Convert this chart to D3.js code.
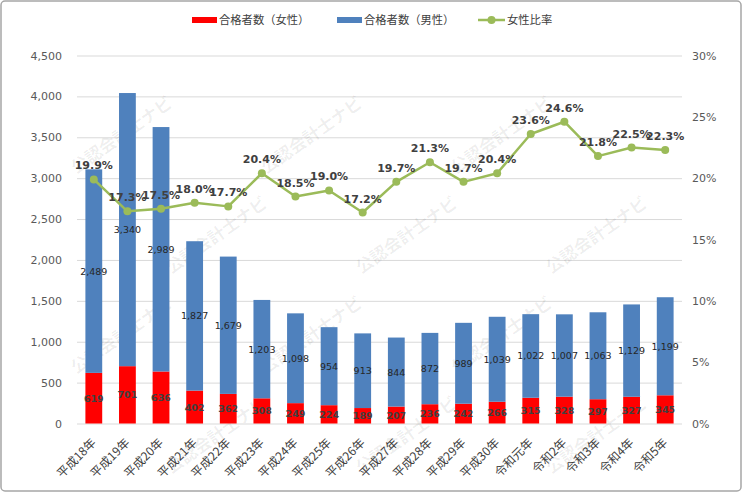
<!DOCTYPE html>
<html lang="ja">
<head>
<meta charset="UTF-8">
<title>公認会計士試験 合格者数</title>
<script src="https://d3js.org/d3.v7.min.js"></script>
<style>
  body { margin: 0; background: #fff; }
  .jp { font-family: "Noto Sans CJK JP", "Noto Sans", sans-serif; }
  .num { font-family: "DejaVu Sans", Verdana, sans-serif; }
</style>
</head>
<body>
<div class="canvas"></div>
<script>
// data
const years = ['平成18年','平成19年','平成20年','平成21年','平成22年','平成23年','平成24年','平成25年','平成26年',
  '平成27年','平成28年','平成29年','平成30年','令和元年','令和2年','令和3年','令和4年','令和5年']
const female = [619, 701, 636, 402, 362, 308, 249, 224, 189, 207, 236, 242, 266, 315, 328, 297, 327, 345]
const male = [2489, 3340, 2989, 1827, 1679, 1203, 1098, 954, 913, 844, 872, 989, 1039, 1022, 1007, 1063, 1129, 1199]
const ratio = [19.9, 17.3, 17.5, 18.0, 17.7, 20.4, 18.5, 19.0, 17.2, 19.7, 21.3, 19.7, 20.4, 23.6, 24.6, 21.8, 22.5, 22.3]
const leftTicks = [0, 500, 1000, 1500, 2000, 2500, 3000, 3500, 4000, 4500]
const rightTicks = [0, 0.05, 0.10, 0.15, 0.20, 0.25, 0.30]
const legendNames = ['合格者数（女性）', '合格者数（男性）', '女性比率']

const width = 743
const height = 493
const [ml, mr, mt, mb] = [77, 61, 55.5, 69.5]
const red = '#ff0000'
const blue = '#4f81bd'
const green = '#9bbb59'

const svg = d3.select('.canvas')
  .append('svg')
  .attr('width', width)
  .attr('height', height)

// frame
svg.append('rect')
  .attr('x', 1).attr('y', 1)
  .attr('width', width - 3).attr('height', height - 3)
  .attr('rx', 4)
  .attr('fill', '#fff')
  .attr('stroke', '#a6a6a6')
  .attr('stroke-width', 1.5)

const x = d3.scaleBand()
  .domain(years)
  .range([ml, width - mr])
  .paddingInner(0.5)
  .paddingOuter(0.25)

const y = d3.scaleLinear()
  .domain([0, 4500])
  .range([height - mb, mt])

const y2 = d3.scaleLinear()
  .domain([0, 0.30])
  .range([height - mb, mt])

// grid
const grid = svg.append('g')
  .attr('transform', `translate(${ml},0)`)
  .call(d3.axisLeft(y).tickValues(leftTicks).tickSize(-(width - ml - mr)).tickFormat(''))
grid.select('.domain').remove()
grid.selectAll('line').attr('stroke', '#d9d9d9').attr('stroke-width', 1)

// left axis
const yAxisG = svg.append('g')
  .attr('transform', `translate(${ml},0)`)
  .call(d3.axisLeft(y).tickValues(leftTicks).tickSize(0).tickPadding(15).tickFormat(d3.format(',')))
yAxisG.select('.domain').remove()
yAxisG.selectAll('text')
  .attr('class', 'num')
  .style('font-size', '11px')
  .attr('fill', '#595959')

// right axis
const y2AxisG = svg.append('g')
  .attr('transform', `translate(${width - mr},0)`)
  .call(d3.axisRight(y2).tickValues(rightTicks).tickSize(0).tickPadding(10).tickFormat(d3.format('.0%')))
y2AxisG.select('.domain').remove()
y2AxisG.selectAll('text')
  .attr('class', 'num')
  .style('font-size', '11px')
  .attr('fill', '#595959')

// x axis labels
const xAxisG = svg.append('g')
  .attr('transform', `translate(0,${height - mb})`)
  .call(d3.axisBottom(x).tickSize(0).tickPadding(0))
xAxisG.select('.domain').remove()
xAxisG.selectAll('text')
  .attr('class', 'jp')
  .style('font-size', '12px')
  .attr('fill', '#404040')
  .attr('text-anchor', 'end')
  .attr('dy', null)
  .attr('y', 0)
  .attr('transform', 'translate(3,20) rotate(-45)')

const rows = years.map((yr, i) => ({ yr, f: female[i], m: male[i], r: ratio[i] / 100 }))

// watermark (background decoration), only copies that sit fully inside the frame
const wm = svg.append('g').attr('class', 'jp').style('pointer-events', 'none')
for (let j = -1; j < 6; j++) {
  for (let i = -1; i < 5; i++) {
    const cx = 30 + i * 190 + j * 95
    const cy = 40 + j * 100
    if (cx < 60 || cx > 685 || cy < 50 || cy > 445) continue
    wm.append('text')
      .attr('transform', `translate(${cx},${cy}) rotate(-35)`)
      .attr('text-anchor', 'middle')
      .style('font-size', '17px')
      .style('font-weight', 'bold')
      .attr('fill', '#000')
      .attr('fill-opacity', 0.07)
      .text('公認会計士ナビ')
  }
}

// bars
const bars = svg.append('g')
bars.selectAll('rect.f')
  .data(rows)
  .enter()
  .append('rect')
  .attr('class', 'f')
  .attr('x', d => x(d.yr))
  .attr('width', x.bandwidth())
  .attr('y', d => y(d.f))
  .attr('height', d => y(0) - y(d.f))
  .attr('fill', red)

bars.selectAll('rect.m')
  .data(rows)
  .enter()
  .append('rect')
  .attr('class', 'm')
  .attr('x', d => x(d.yr))
  .attr('width', x.bandwidth())
  .attr('y', d => y(d.f + d.m))
  .attr('height', d => y(d.f) - y(d.f + d.m))
  .attr('fill', blue)

// bar labels
bars.selectAll('text.fl')
  .data(rows)
  .enter()
  .append('text')
  .attr('class', 'num')
  .attr('x', d => x(d.yr) + x.bandwidth() / 2)
  .attr('y', d => (y(0) + y(d.f)) / 2 + 3.5)
  .attr('text-anchor', 'middle')
  .style('font-size', '9.5px')
  .style('font-weight', 'bold')
  .attr('fill', '#404040')
  .text(d => d3.format(',')(d.f))

bars.selectAll('text.ml')
  .data(rows)
  .enter()
  .append('text')
  .attr('class', 'num')
  .attr('x', d => x(d.yr) + x.bandwidth() / 2)
  .attr('y', d => (y(d.f) + y(d.f + d.m)) / 2 + 3.5)
  .attr('text-anchor', 'middle')
  .style('font-size', '9.5px')
  .attr('fill', '#262626')
  .text(d => d3.format(',')(d.m))

// ratio line
const line = d3.line()
  .x(d => x(d.yr) + x.bandwidth() / 2)
  .y(d => y2(d.r))

svg.append('path')
  .datum(rows)
  .attr('fill', 'none')
  .attr('stroke', green)
  .attr('stroke-width', 2.5)
  .attr('stroke-linejoin', 'round')
  .attr('d', line)

svg.append('g').selectAll('circle')
  .data(rows)
  .enter()
  .append('circle')
  .attr('cx', d => x(d.yr) + x.bandwidth() / 2)
  .attr('cy', d => y2(d.r))
  .attr('r', 4)
  .attr('fill', green)

svg.append('g').selectAll('text')
  .data(rows)
  .enter()
  .append('text')
  .attr('class', 'num')
  .attr('x', d => x(d.yr) + x.bandwidth() / 2)
  .attr('y', d => y2(d.r) - 10)
  .attr('text-anchor', 'middle')
  .style('font-size', '11px')
  .style('font-weight', 'bold')
  .attr('fill', '#404040')
  .text(d => d3.format('.1%')(d.r))

// legend
const legend = svg.append('g').attr('transform', 'translate(0,20)')
const legendX = [192, 337, 478]
legendNames.forEach((name, i) => {
  const g = legend.append('g').attr('transform', `translate(${legendX[i]},0)`)
  if (i < 2) {
    g.append('rect')
      .attr('x', 0).attr('y', -3)
      .attr('width', 25).attr('height', 6)
      .attr('fill', i === 0 ? red : blue)
  } else {
    g.append('line')
      .attr('x1', 0).attr('x2', 27)
      .attr('stroke', green).attr('stroke-width', 2.5)
    g.append('circle')
      .attr('cx', 13.5).attr('r', 4)
      .attr('fill', green)
  }
  g.append('text')
    .attr('class', 'jp')
    .attr('x', i < 2 ? 27 : 29)
    .attr('y', 4)
    .style('font-size', '11.3px')
    .attr('fill', '#404040')
    .text(name)
})
</script>
</body>
</html>
